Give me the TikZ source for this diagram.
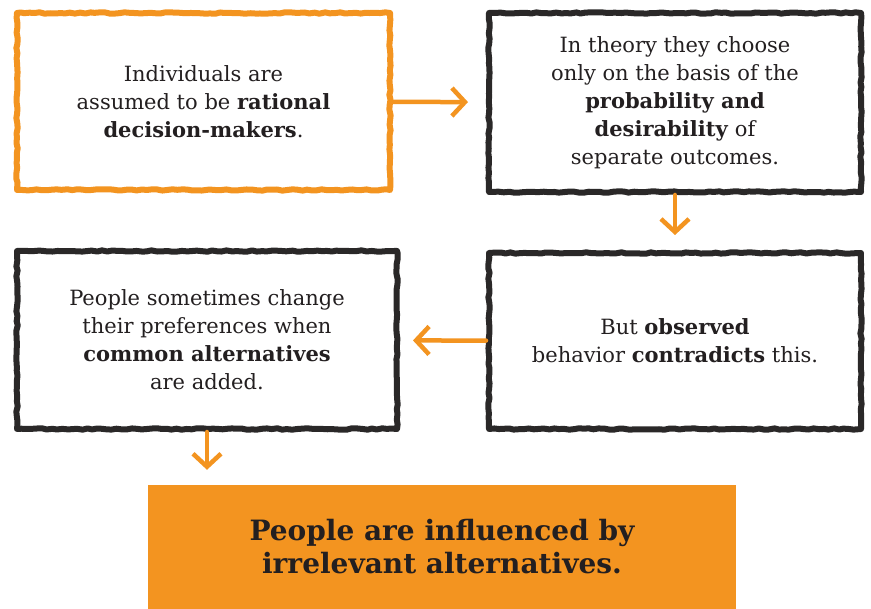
\documentclass[tikz,border=0pt]{standalone}
\usepackage{fontspec}
\setmainfont{DejaVu Serif}
\usetikzlibrary{arrows.meta,positioning,decorations.pathmorphing}
\definecolor{boxorange}{HTML}{F39420}
\definecolor{boxink}{HTML}{2A2828}
\definecolor{textink}{HTML}{231F20}

\begin{document}
\begin{tikzpicture}[x=1pt, y=-1pt, line cap=round, line join=round,
  card/.style={draw=boxink, line width=6pt, fill=white, text=textink,
    decorate, decoration={random steps, segment length=5pt, amplitude=0.7pt},
    align=center, inner sep=0pt, font=\fontsize{21}{28}\selectfont},
  orangecard/.style={card, draw=boxorange},
  result/.style={fill=boxorange, text=textink, align=center, inner sep=0pt,
    font=\fontsize{28}{33}\selectfont\bfseries},
  flow/.style={draw=boxorange, line width=4.5pt, -{Straight Barb[length=13pt, width=28pt, line width=4.5pt]}}]
  \useasboundingbox (0,0) rectangle (871,609);
  \node[orangecard, minimum width=373pt, minimum height=177pt] (rational) at (203.5,101.5)
    {Individuals are\\assumed to be \textbf{rational}\\\textbf{decision-makers}.};
  \node[card, minimum width=372pt, minimum height=179pt] (theory) at (675,102.5)
    {In theory they choose\\only on the basis of the\\\textbf{probability and}\\\textbf{desirability} of\\separate outcomes.};
  \node[card, minimum width=372pt, minimum height=176pt] (observed) at (675,341)
    {But \textbf{observed}\\behavior \textbf{contradicts} this.};
  \node[card, minimum width=380pt, minimum height=178pt] (change) at (207,340)
    {People sometimes change\\their preferences when\\\textbf{common alternatives}\\are added.};
  \node[result, minimum width=588pt, minimum height=124pt] (influenced) at (442,547)
    {People are influenced by\\irrelevant alternatives.};
  \draw[flow, shorten >=18pt] (rational) -- (theory);
  \draw[flow, shorten >=15pt] (theory.south) -- (theory.south |- observed.north);
  \draw[flow, shorten >=13pt] (observed) -- (change);
  \draw[flow, shorten >=15pt] (change.south) -- (change.south |- influenced.north);
\end{tikzpicture}
\end{document}
